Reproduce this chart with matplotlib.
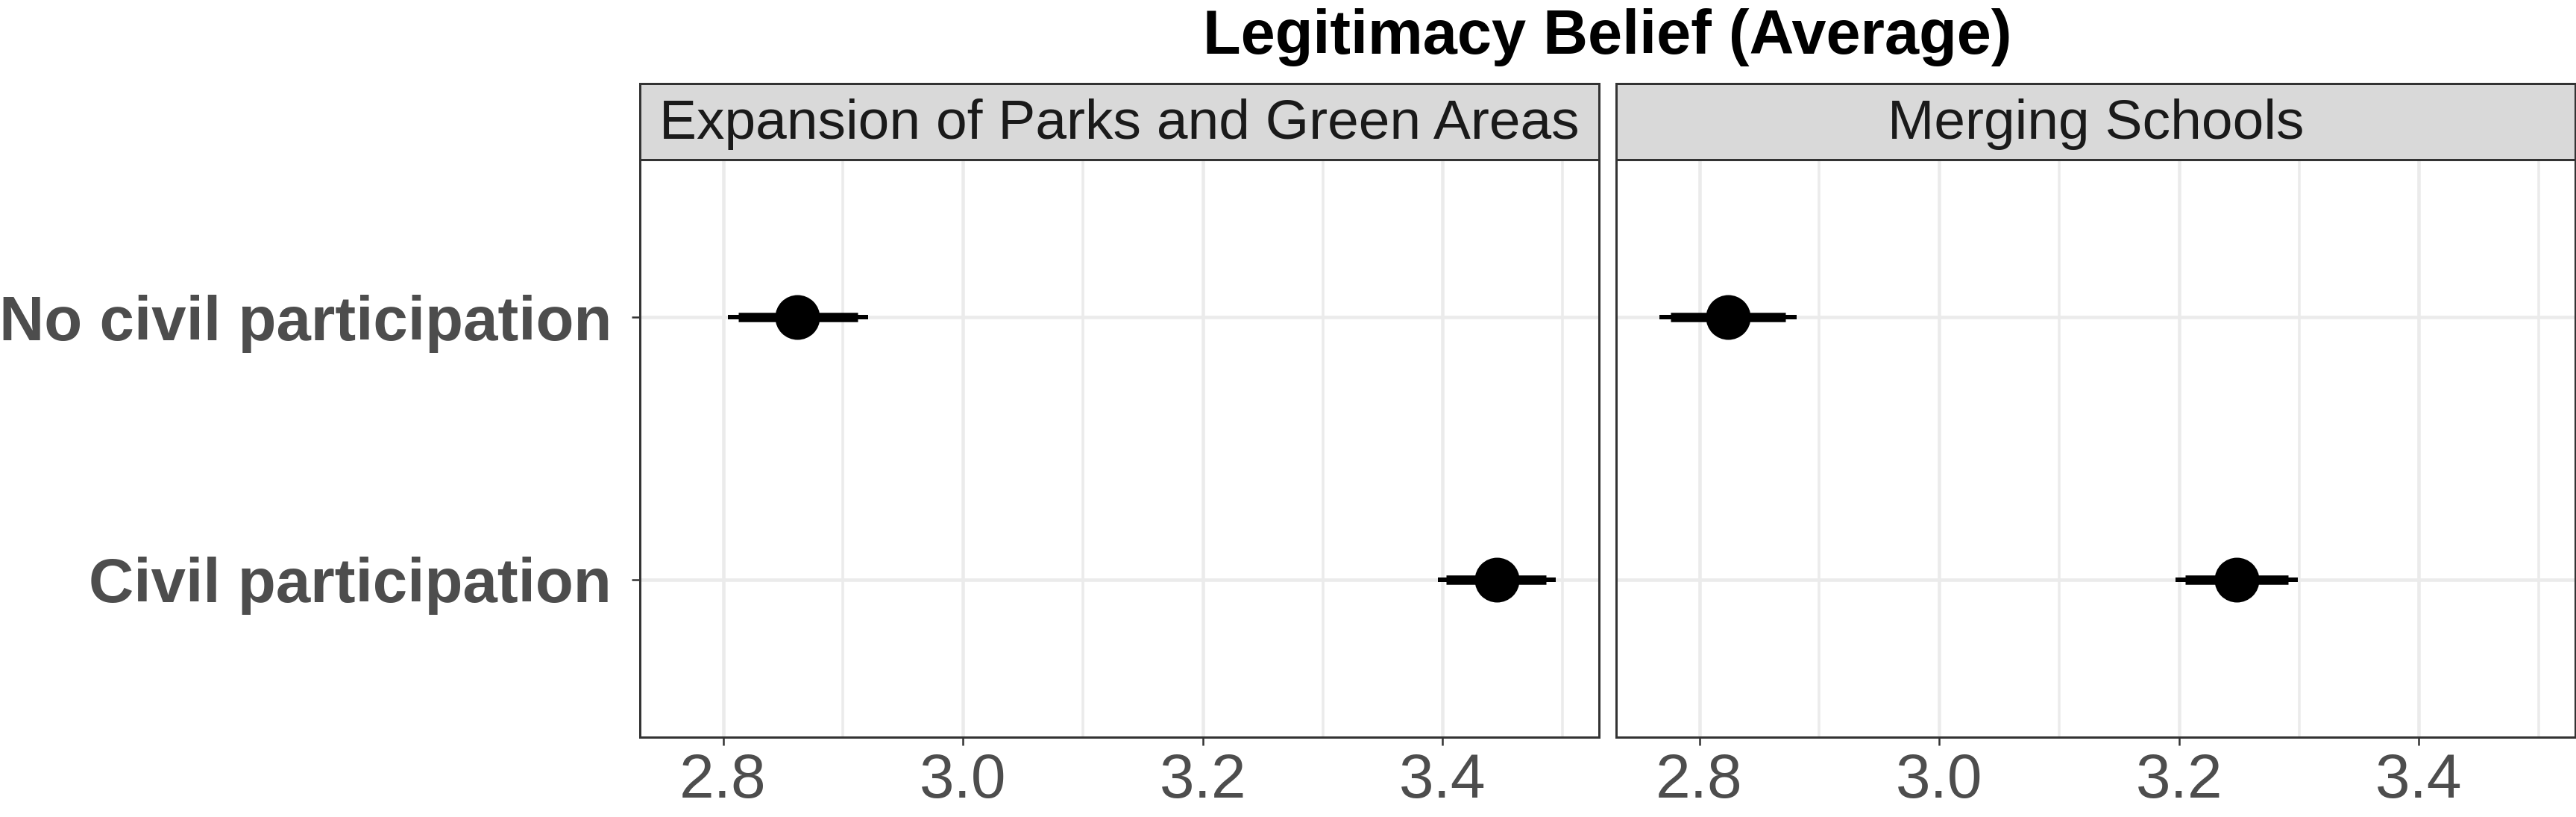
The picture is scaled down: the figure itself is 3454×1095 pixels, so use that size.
import matplotlib
matplotlib.use("Agg")
import matplotlib.pyplot as plt
import numpy as np

# ---- data ----
facets = ["Expansion of Parks and Green Areas", "Merging Schools"]
groups = ["Civil participation", "No civil participation"]  # bottom -> top
estimate = {
    "Expansion of Parks and Green Areas": [3.445, 2.862],
    "Merging Schools": [3.248, 2.824],
}
ci_outer_low = {
    "Expansion of Parks and Green Areas": [3.396, 2.804],
    "Merging Schools": [3.197, 2.767],
}
ci_outer_high = {
    "Expansion of Parks and Green Areas": [3.494, 2.921],
    "Merging Schools": [3.299, 2.881],
}
ci_inner_low = {
    "Expansion of Parks and Green Areas": [3.403, 2.813],
    "Merging Schools": [3.205, 2.776],
}
ci_inner_high = {
    "Expansion of Parks and Green Areas": [3.486, 2.912],
    "Merging Schools": [3.291, 2.872],
}
major_ticks = [2.8, 3.0, 3.2, 3.4]
minor_ticks = [2.9, 3.1, 3.3, 3.5]
tick_labels = ["2.8", "3.0", "3.2", "3.4"]
title = "Legitimacy Belief (Average)"

# ---- layout ----
W, H = 3454, 1095
DPI = 200
plt.rcParams['font.family'] = ['Liberation Sans', 'DejaVu Sans']
fig = plt.figure(figsize=(W / DPI, H / DPI), dpi=DPI)

def px(v):  # pixels -> points
    return v * 72.0 / DPI

panel_left = [858, 2167]
panel_w = 1286
panel_top, panel_bot = 214, 988
strip_top = 112

all_lo = min(min(v) for v in ci_outer_low.values())
all_hi = max(max(v) for v in ci_outer_high.values())
pad = 0.05 * (all_hi - all_lo)
xlim = (all_lo - pad, all_hi + pad)

border_col = "#333333"
grid_col = "#EBEBEB"

for i, f in enumerate(facets):
    l = panel_left[i] / W
    b = 1 - panel_bot / H
    ax = fig.add_axes([l, b, panel_w / W, (panel_bot - panel_top) / H])
    ax.set_xlim(*xlim)
    ax.set_ylim(0.4, 2.6)
    ypos = np.arange(1, len(groups) + 1)

    for x in major_ticks:
        ax.axvline(x, color=grid_col, lw=px(4.5), zorder=0)
    for x in minor_ticks:
        ax.axvline(x, color=grid_col, lw=px(3.5), zorder=0)
    for y in ypos:
        ax.axhline(y, color=grid_col, lw=px(4.5), zorder=0)

    ax.hlines(ypos, ci_outer_low[f], ci_outer_high[f], color="black",
              lw=px(6), capstyle="butt", zorder=2)
    ax.hlines(ypos, ci_inner_low[f], ci_inner_high[f], color="black",
              lw=px(12.5), capstyle="butt", zorder=3)
    ax.plot(estimate[f], ypos, "o", color="black", ms=px(60), mew=0, zorder=4)

    ax.set_xticks(major_ticks)
    ax.set_xticklabels(tick_labels)
    ax.set_yticks(ypos)
    ax.tick_params(axis="x", length=px(11), width=px(2.5), color=border_col,
                   labelsize=px(84), labelcolor="#4D4D4D", pad=px(9))
    if i == 0:
        ax.set_yticklabels(groups, fontsize=px(83.5), fontweight="bold", color="#4D4D4D")
        ax.tick_params(axis="y", length=px(11), width=px(2.5), color=border_col,
                       pad=px(27))
    else:
        ax.set_yticklabels([])
        ax.tick_params(axis="y", length=0)
    for s in ax.spines.values():
        s.set_color(border_col)
        s.set_linewidth(px(3))
        s.set_zorder(5)

    # strip
    sax = fig.add_axes([l, 1 - panel_top / H, panel_w / W, (panel_top - strip_top) / H])
    sax.set_facecolor("#D9D9D9")
    sax.set_xticks([])
    sax.set_yticks([])
    for s in sax.spines.values():
        s.set_color(border_col)
        s.set_linewidth(px(3))
    sax.text(0.5, 0.47, f, transform=sax.transAxes, ha="center", va="center",
             fontsize=px(75), color="#1A1A1A")

cx = (panel_left[0] + panel_left[1] + panel_w) / 2 / W
fig.text(cx, 1 - 72 / H, title, ha="center", va="baseline",
         fontsize=px(83), fontweight="bold", color="black")

fig.savefig("out.png", dpi=DPI, facecolor="white")
